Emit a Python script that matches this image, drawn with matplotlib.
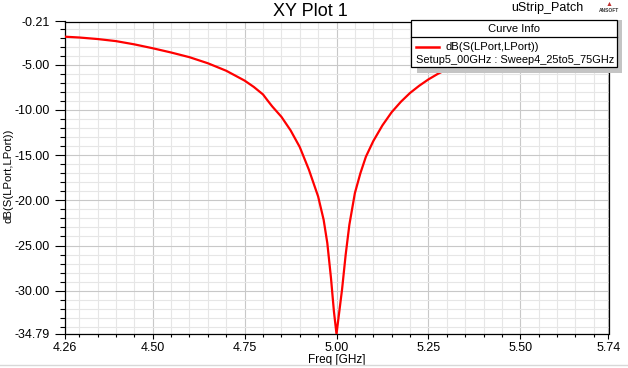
import matplotlib
matplotlib.use("Agg")
import matplotlib.pyplot as plt
from matplotlib.patches import Rectangle
from matplotlib.lines import Line2D

plt.rcParams["font.family"] = ["Liberation Sans", "DejaVu Sans"]

# S11 (GHz, dB)
freq = [4.26, 4.30, 4.35, 4.40, 4.45, 4.50, 4.55, 4.60, 4.65, 4.70, 4.75,
        4.775, 4.80, 4.8125, 4.825, 4.85, 4.875, 4.90, 4.925, 4.95, 4.965,
        4.975, 4.985, 4.993, 5.00, 5.007, 5.015, 5.025, 5.035, 5.05, 5.065,
        5.08, 5.10, 5.125, 5.15, 5.175, 5.20, 5.225, 5.25, 5.275, 5.30, 5.35,
        5.40, 5.45, 5.50, 5.55, 5.60, 5.65, 5.70, 5.74]
s11_db = [-1.89, -1.98, -2.15, -2.38, -2.74, -3.17, -3.64, -4.16, -4.83, -5.66, -6.75,
          -7.45, -8.28, -8.95, -9.6, -10.75, -12.25, -14.1, -16.62, -19.57, -22.15,
          -24.73, -28.6, -32.3, -34.79, -32.5, -29.9, -26.0, -22.7, -19.2, -17.0,
          -15.17, -13.45, -11.7, -10.25, -9.1, -8.12, -7.32, -6.62, -6.02, -5.5, -4.7,
          -4.1, -3.6, -3.25, -2.95, -2.7, -2.5, -2.35, -2.25]

x_ticks = [4.26, 4.50, 4.75, 5.00, 5.25, 5.50, 5.74]
y_ticks = [-0.21, -5.0, -10.0, -15.0, -20.0, -25.0, -30.0, -34.79]
x_minor = [round(4.30 + 0.05 * i, 2) for i in range(29)]
y_minor = list(range(-1, -35, -1))

W, H = 628, 368


def fx(px):
    return px / W


def fy(py):
    return 1 - py / H


fig = plt.figure(figsize=(6.28, 3.68), dpi=100)
ax = fig.add_axes([fx(64.5), fy(334), fx(608.5) - fx(64.5), fy(21.5) - fy(334)])

ax.plot(freq, s11_db, color="#ff0000", lw=1.6, zorder=3)

ax.set_xlim(4.26, 5.74)
ax.set_ylim(-34.79, -0.21)
ax.set_xticks(x_ticks)
ax.set_xticklabels([f"{v:.2f}" for v in x_ticks])
ax.set_yticks(y_ticks)
ax.set_yticklabels([f"{v:.2f}" for v in y_ticks])
ax.set_xticks([v for v in x_minor if v not in x_ticks], minor=True)
ax.set_yticks([v for v in y_minor if v not in y_ticks], minor=True)

ax.grid(which="major", color="#c8c8c8", lw=0.8, zorder=0)
ax.grid(which="minor", color="#e6e6e6", lw=0.8, zorder=0)
ax.set_axisbelow(True)

ax.tick_params(axis="y", which="major", direction="out", length=7, width=0.8,
               pad=3.5, labelsize=9)
ax.tick_params(axis="y", which="minor", direction="out", length=3.5, width=0.8)
ax.tick_params(axis="x", which="major", direction="out", length=3.6, width=0.8,
               pad=2.5, labelsize=9)
ax.tick_params(axis="x", which="minor", direction="out", length=1.8, width=0.8)
for s in ax.spines.values():
    s.set_color("black")
    s.set_linewidth(0.9)

ax.set_xlabel("Freq [GHz]", fontsize=8.5, labelpad=0)
fig.text(fx(9), fy(176), "dB(S(LPort,LPort))", fontsize=8.2, rotation=90,
         ha="center", va="center")

# titles
fig.text(fx(310), fy(16), "XY Plot 1", fontsize=13, ha="center", va="baseline")
fig.text(fx(511), fy(8), "uStrip_Patch", fontsize=9, ha="left", va="center")
fig.text(fx(609), fy(4), "\u25b2", fontsize=5, color="#c03030", ha="center", va="center")
fig.text(fx(609), fy(10.5), "ANSOFT", fontsize=3.5, ha="center", va="center",
         fontweight="bold", color="#333333")

# curve info box
fig.add_artist(Rectangle((fx(417), fy(72.7)), fx(205), 52.7 / H,
                         transform=fig.transFigure, facecolor="#c4c4c4",
                         edgecolor="none", zorder=5))
fig.add_artist(Rectangle((fx(411), fy(66.7)), fx(206), 46.7 / H,
                         transform=fig.transFigure, facecolor="white",
                         edgecolor="black", lw=0.9, zorder=6))
fig.add_artist(Line2D([fx(411), fx(617)], [fy(36.7), fy(36.7)],
                      transform=fig.transFigure, color="black", lw=0.9, zorder=7))
fig.text(fx(514), fy(29), "Curve Info", fontsize=8.1, ha="center", va="center", zorder=7)
fig.add_artist(Line2D([fx(416), fx(439)], [fy(46.7), fy(46.7)],
                      transform=fig.transFigure, color="#ff0000", lw=1.8, zorder=7))
fig.text(fx(445.7), fy(47.3), "dB(S(LPort,LPort))", fontsize=8.1, ha="left",
         va="center", zorder=7)
fig.text(fx(416), fy(60), "Setup5_00GHz : Sweep4_25to5_75GHz", fontsize=7.9,
         ha="left", va="center", zorder=7)

# light frame at the bottom
fig.add_artist(Line2D([0, 1], [fy(365), fy(365)], transform=fig.transFigure,
                      color="#d8d8d8", lw=1))

fig.savefig("out.png", dpi=100, facecolor="white")
